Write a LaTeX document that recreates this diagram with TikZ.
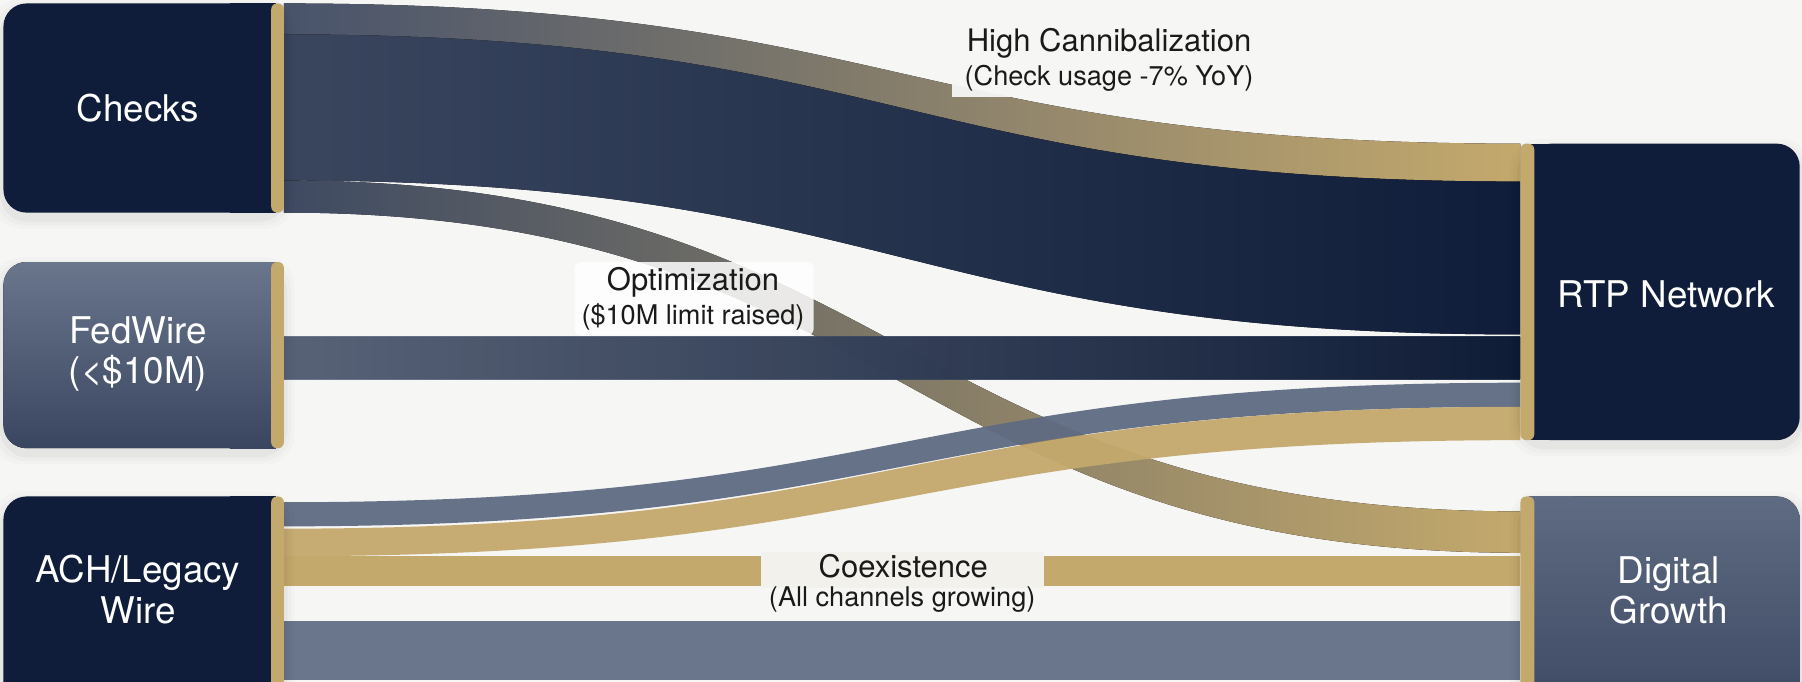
\documentclass[tikz,border=0pt]{standalone}
\usepackage{fontspec}
\setmainfont{TeX Gyre Heros}
\definecolor{bgc}{HTML}{F6F6F5}
\definecolor{navy}{HTML}{0F1D3A}
\definecolor{navyL}{HTML}{3A465E}
\definecolor{slate}{HTML}{5F6B82}
\definecolor{slateL}{HTML}{6A768C}
\definecolor{slateD}{HTML}{3A4660}
\definecolor{gold}{HTML}{C4A96C}
\definecolor{topL}{HTML}{48536B}
\definecolor{topM}{HTML}{7E7A6C}
\definecolor{diagL}{HTML}{3E4A62}
\definecolor{diagM}{HTML}{7A7868}
\definecolor{labbg}{HTML}{F2F1EC}
\definecolor{txt}{HTML}{1A1A1A}
\tikzset{
  boxtext/.style={text=white, align=center, font=\fontsize{16}{17.5}\selectfont},
  labmain/.style={text=txt, font=\fontsize{13.5}{15}\selectfont},
  labsub/.style={text=txt, font=\fontsize{11.8}{13}\selectfont},
}
\begin{document}
\begin{tikzpicture}[x=0.5pt,y=-0.5pt]
\useasboundingbox (0,0) rectangle (1568,593);
\clip (0,0) rectangle (1568,593);
\fill[bgc] (0,0) rectangle (1568,593);
% ---- flows ----
% Checks -> Digital (diagonal)
\fill[left color=diagL, middle color=diagM, right color=gold]
  (247,157) .. controls (785,157) and (785,445) .. (1323,445)
  -- (1323,481) .. controls (785,481) and (785,185) .. (247,185) -- cycle;
% Checks -> RTP top (high cannibalization)
\fill[left color=topL, middle color=topM, right color=gold]
  (247,3) .. controls (785,3) and (785,125) .. (1323,125)
  -- (1323,158) .. controls (785,158) and (785,30) .. (247,30) -- cycle;
% Checks -> RTP main
\fill[left color=navyL, right color=navy]
  (247,30) .. controls (785,30) and (785,158) .. (1323,158)
  -- (1323,291) .. controls (785,291) and (785,157) .. (247,157) -- cycle;
% FedWire -> RTP
\fill[left color=slate, right color=navy, opacity=0.9] (247,293) rectangle (1323,330);
% ACH -> RTP slate
\fill[slate, opacity=0.95]
  (247,437) .. controls (785,437) and (785,333) .. (1323,333)
  -- (1323,354) .. controls (785,354) and (785,458) .. (247,458) -- cycle;
% ACH -> RTP gold
\fill[gold, opacity=0.95]
  (247,460) .. controls (785,460) and (785,354) .. (1323,354)
  -- (1323,383) .. controls (785,383) and (785,484) .. (247,484) -- cycle;
% ACH -> Digital gold
\fill[gold] (247,484) rectangle (1323,510);
% ACH -> Digital slate
\fill[slateL] (247,540) rectangle (1323,592);
% ---- label backgrounds ----
\fill[bgc, opacity=0.95] (828,18) rectangle (1100,84);
\fill[white, opacity=0.85, rounded corners=3pt] (500,228) rectangle (708,292);
\fill[labbg] (662,480) rectangle (908,512);
% ---- box shadows ----
\foreach \d/\o in {9/0.015,6/0.02,3/0.03} {
  \fill[black, opacity=\o, rounded corners=12pt] (3-\d,3-\d+5) rectangle (247+\d,185+\d+5);
  \fill[black, opacity=\o, rounded corners=12pt] (3-\d,228-\d+5) rectangle (247+\d,390+\d+5);
  \fill[black, opacity=\o, rounded corners=12pt] (3-\d,432-\d+5) rectangle (247+\d,640);
  \fill[black, opacity=\o, rounded corners=12pt] (1323-\d,125-\d+5) rectangle (1566+\d,383+\d+5);
  \fill[black, opacity=\o, rounded corners=12pt] (1323-\d,432-\d+5) rectangle (1566+\d,640);
}
% ---- left boxes ----
\fill[navy, rounded corners=10pt] (3,3) rectangle (240,185);
\fill[navy] (200,3) rectangle (240,185);
\fill[gold, rounded corners=2.5pt] (236,3) rectangle (247,185);
\node[boxtext] (checks) at (120,94) {Checks};
\fill[top color=slateL, bottom color=slateD, rounded corners=10pt] (3,228) rectangle (240,390);
\fill[top color=slateL, bottom color=slateD] (200,228) rectangle (240,390);
\fill[gold, rounded corners=2.5pt] (236,228) rectangle (247,390);
\node[boxtext] (fedwire) at (120,308) {FedWire\\(<\$10M)};
\fill[navy, rounded corners=10pt] (3,432) rectangle (240,640);
\fill[navy] (200,432) rectangle (240,640);
\fill[gold, rounded corners=2.5pt] (236,432) rectangle (247,640);
\node[boxtext] (ach) at (120,513) {ACH/Legacy\\Wire};
% ---- right boxes ----
\fill[navy, rounded corners=10pt] (1330,125) rectangle (1566,383);
\fill[navy] (1330,125) rectangle (1370,383);
\fill[gold, rounded corners=2.5pt] (1323,125) rectangle (1335,383);
\node[boxtext] (rtp) at (1450,256) {RTP Network};
\fill[top color=slate, bottom color=slateD, rounded corners=10pt] (1330,432) rectangle (1566,640);
\fill[top color=slate, bottom color=slateD] (1330,432) rectangle (1370,640);
\fill[gold, rounded corners=2.5pt] (1323,432) rectangle (1335,640);
\node[boxtext] (digital) at (1452,514) {Digital\\Growth};
% ---- labels ----
\node[labmain] (hc) at (965,38) {High Cannibalization};
\node[labsub] (hcs) at (965,68) {(Check usage -7\% YoY)};
\node[labmain] (opt) at (603,246) {Optimization};
\node[labsub] (opts) at (603,276) {(\$10M limit raised)};
\node[labmain] (coex) at (786,493) {Coexistence};
\node[labsub] (coexs) at (785,522) {(All channels growing)};
\end{tikzpicture}
\end{document}
